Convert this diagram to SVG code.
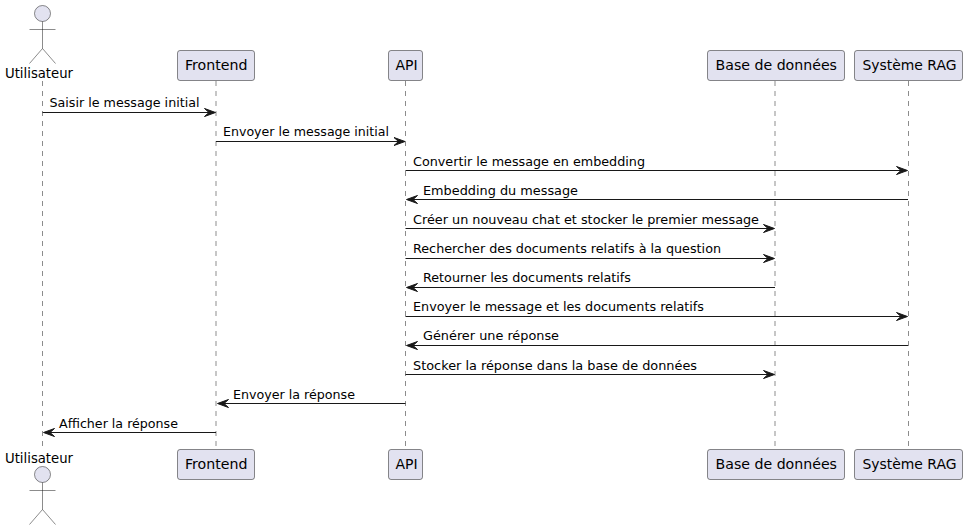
<svg xmlns="http://www.w3.org/2000/svg" width="967" height="530" viewBox="0 0 967 530">
<style>
text{font-family:"DejaVu Sans",sans-serif;fill:#000}
.p{font-size:14px}
.m{font-size:13px}
.box{fill:#E2E2F0;stroke:#181818;stroke-width:.5}
.act{fill:#E2E2F0;stroke:#181818;stroke-width:.5}
.life{stroke:#181818;stroke-width:.5;stroke-dasharray:5,5;fill:none}
.msg{stroke:#181818;stroke-width:1;fill:none}
.head{fill:#181818;stroke:#181818;stroke-width:1}
</style>
<defs>
<g id="actor"><circle class="act" cx="0" cy="0" r="8"/><path class="act" style="fill:none" d="M0 8V35M-13 16H13M0 35L-13 50M0 35L13 50"/></g>
<path id="ar" class="head" d="M0 0L-11 -4L-6.5 0L-11 4Z"/>
<path id="al" class="head" d="M0 0L11 -4L6.5 0L11 4Z"/>
</defs>
<g id="lifelines">
<path class="life" d="M42.5 81V449"/><path class="life" d="M216 81V449"/><path class="life" d="M405.5 81V449"/><path class="life" d="M775 81V449"/><path class="life" d="M908.5 81V449"/>
</g>
<g id="utilisateur"><use href="#actor" x="42.5" y="13.5"/><text class="p" x="5" y="78" textLength="68" lengthAdjust="spacingAndGlyphs">Utilisateur</text><text class="p" x="5" y="463" textLength="68" lengthAdjust="spacingAndGlyphs">Utilisateur</text><use href="#actor" x="42.5" y="474.5"/></g>
<g id="frontend"><rect class="box" x="177.5" y="50.5" width="77" height="30" rx="2.5"/><text class="p" x="185" y="70" textLength="62.5" lengthAdjust="spacingAndGlyphs">Frontend</text><rect class="box" x="177.5" y="449.5" width="77" height="30" rx="2.5"/><text class="p" x="185" y="469" textLength="62.5" lengthAdjust="spacingAndGlyphs">Frontend</text></g>
<g id="api"><rect class="box" x="388.5" y="50.5" width="34" height="30" rx="2.5"/><text class="p" x="395.5" y="70">API</text><rect class="box" x="388.5" y="449.5" width="34" height="30" rx="2.5"/><text class="p" x="395.5" y="469">API</text></g>
<g id="bdd"><rect class="box" x="707.5" y="50.5" width="137" height="30" rx="2.5"/><text class="p" x="715.5" y="70" textLength="121.5" lengthAdjust="spacingAndGlyphs">Base de données</text><rect class="box" x="707.5" y="449.5" width="137" height="30" rx="2.5"/><text class="p" x="715.5" y="469" textLength="121.5" lengthAdjust="spacingAndGlyphs">Base de données</text></g>
<g id="rag"><rect class="box" x="854.5" y="50.5" width="108" height="30" rx="2.5"/><text class="p" x="862.5" y="70" textLength="94" lengthAdjust="spacingAndGlyphs">Système RAG</text><rect class="box" x="854.5" y="449.5" width="108" height="30" rx="2.5"/><text class="p" x="862.5" y="469" textLength="94" lengthAdjust="spacingAndGlyphs">Système RAG</text></g>
<g id="connectors">
<path class="msg" d="M42.5 112.5H211"/><use href="#ar" x="215.5" y="112.5"/><text class="m" x="49.5" y="107" textLength="150" lengthAdjust="spacingAndGlyphs">Saisir le message initial</text>
<path class="msg" d="M216 141.5H400"/><use href="#ar" x="405" y="141.5"/><text class="m" x="223" y="136" textLength="166" lengthAdjust="spacingAndGlyphs">Envoyer le message initial</text>
<path class="msg" d="M405.5 170.5H903"/><use href="#ar" x="907.5" y="170.5"/><text class="m" x="413" y="166" textLength="232" lengthAdjust="spacingAndGlyphs">Convertir le message en embedding</text>
<path class="msg" d="M411 199.5H908"/><use href="#al" x="406.5" y="199.5"/><text class="m" x="423" y="195" textLength="155" lengthAdjust="spacingAndGlyphs">Embedding du message</text>
<path class="msg" d="M405.5 228.5H770"/><use href="#ar" x="774.5" y="228.5"/><text class="m" x="413" y="224" textLength="346" lengthAdjust="spacingAndGlyphs">Créer un nouveau chat et stocker le premier message</text>
<path class="msg" d="M405.5 258.5H770"/><use href="#ar" x="774.5" y="258.5"/><text class="m" x="413" y="253" textLength="308" lengthAdjust="spacingAndGlyphs">Rechercher des documents relatifs à la question</text>
<path class="msg" d="M411 287.5H775"/><use href="#al" x="406.5" y="287.5"/><text class="m" x="423" y="282" textLength="208" lengthAdjust="spacingAndGlyphs">Retourner les documents relatifs</text>
<path class="msg" d="M405.5 316.5H903"/><use href="#ar" x="907.5" y="316.5"/><text class="m" x="413" y="311" textLength="291" lengthAdjust="spacingAndGlyphs">Envoyer le message et les documents relatifs</text>
<path class="msg" d="M411 345.5H908"/><use href="#al" x="406.5" y="345.5"/><text class="m" x="423" y="340" textLength="136" lengthAdjust="spacingAndGlyphs">Générer une réponse</text>
<path class="msg" d="M405.5 374.5H770"/><use href="#ar" x="774.5" y="374.5"/><text class="m" x="413" y="370" textLength="284" lengthAdjust="spacingAndGlyphs">Stocker la réponse dans la base de données</text>
<path class="msg" d="M222 403.5H405.5"/><use href="#al" x="217.5" y="403.5"/><text class="m" x="233" y="399" textLength="122" lengthAdjust="spacingAndGlyphs">Envoyer la réponse</text>
<path class="msg" d="M48 432.5H216"/><use href="#al" x="43.5" y="432.5"/><text class="m" x="59" y="428" textLength="119" lengthAdjust="spacingAndGlyphs">Afficher la réponse</text>
</g>
</svg>
